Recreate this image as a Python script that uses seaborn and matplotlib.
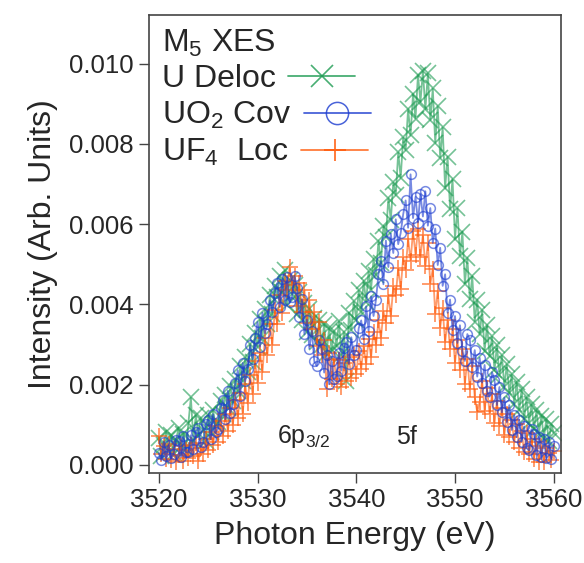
# M5 XES spectra of U, UO2 and UF4

import numpy as np
import pandas as pd
import seaborn as sns
import matplotlib.pyplot as plt
from matplotlib.ticker import FormatStrFormatter, MultipleLocator

sns.set_style("ticks")
plt.rcParams["font.family"] = ["Liberation Sans", "DejaVu Sans"]
plt.rcParams["mathtext.fontset"] = "custom"
plt.rcParams["mathtext.rm"] = "Liberation Sans"
plt.rcParams["mathtext.it"] = "Liberation Sans"

# energy grid (eV), 0.25 eV steps
energy = np.arange(3520, 3560.01, 0.25)

# intensities in units of 1e-4
u_deloc = [
    6.8, 2.1, 4.9, 8.2, 3.5, 7.4, 2.9, 6.1, 9.3, 4.4, 7.8, 3.9,
    10.5, 16.8, 6.2, 12.4, 7.2, 11.8, 8.6, 5.9, 12.4, 8.1, 13.6, 9.9,
    10.8, 15.9, 12.6, 17.4, 14.2, 19.6, 15.8, 21.3, 18.4, 24.6, 20.9, 26.8,
    23.1, 30.2, 25.7, 32.9, 29.4, 36.3, 31.6, 38.8, 35.1, 42.4, 37.6, 44.5,
    41.9, 47.0, 43.2, 48.5, 39.8, 46.1, 42.5, 44.9, 37.6, 43.0, 36.2, 40.4,
    33.1, 38.9, 32.4, 36.7, 30.5, 36.2, 29.8, 35.0, 27.9, 34.1, 28.6, 33.4,
    29.6, 35.8, 27.4, 33.2, 21.0, 37.9, 33.6, 40.8, 36.2, 43.5, 38.1, 45.9,
    40.6, 48.2, 43.7, 51.4, 47.3, 55.9, 50.2, 59.6, 56.8, 66.5, 61.0, 70.4,
    67.2, 77.9, 71.5, 81.6, 78.4, 88.7, 82.1, 92.5, 86.3, 97.2, 90.4, 98.1,
    88.6, 97.6, 85.9, 93.8, 80.2, 89.4, 76.5, 84.1, 68.9, 76.8, 63.7, 71.2,
    56.4, 63.9, 52.1, 58.0, 45.2, 51.6, 41.3, 47.0, 35.7, 41.2, 32.5, 38.6,
    28.4, 34.9, 27.1, 32.0, 23.6, 29.8, 22.4, 27.3, 19.5, 25.1, 17.8, 22.6,
    15.2, 20.7, 13.6, 18.9, 11.4, 16.8, 10.5, 15.1, 8.9, 13.6, 7.8, 12.2,
    6.6, 11.4, 5.9, 10.1, 8.0,
]
uo2_cov = [
    3.0, 1.2, 5.8, 2.1, 4.9, 1.6, 2.8, 6.2, 5.9, 2.0, 7.1, 3.2,
    3.1, 7.4, 4.0, 8.3, 9.2, 4.5, 5.6, 10.1, 11.3, 6.4, 12.6, 8.1,
    9.0, 14.2, 16.1, 11.4, 18.5, 13.0, 15.1, 20.3, 23.6, 17.2, 25.4, 20.8,
    23.9, 29.8, 26.3, 31.5, 35.6, 29.4, 37.9, 32.8, 35.2, 41.0, 38.1, 42.8,
    45.3, 39.4, 46.2, 41.0, 46.8, 40.5, 41.9, 47.1, 44.0, 36.8, 41.3, 32.5,
    36.2, 29.0, 33.4, 25.8, 24.6, 31.2, 28.9, 23.0, 27.5, 20.1, 25.9, 21.4,
    22.1, 28.0, 23.5, 29.2, 30.6, 25.2, 31.8, 27.4, 28.6, 34.1, 36.0, 31.3,
    39.5, 33.4, 42.0, 37.1, 41.2, 47.6, 50.8, 45.0, 55.9, 49.3, 57.6, 52.8,
    61.2, 55.0, 57.8, 62.4, 65.9, 59.1, 72.4, 61.5, 66.8, 60.4, 67.5, 61.9,
    68.2, 59.6, 64.0, 55.3, 58.9, 49.8, 54.1, 44.6, 47.5, 37.9, 41.2, 33.6,
    37.1, 30.4, 34.8, 28.3, 25.9, 32.6, 31.2, 24.4, 28.6, 22.0, 26.7, 20.5,
    24.9, 18.3, 17.0, 23.1, 21.2, 14.9, 19.4, 13.1, 16.8, 10.6, 14.9, 8.7,
    12.4, 6.9, 11.3, 5.8, 9.6, 4.2, 3.6, 8.9, 7.8, 2.5, 7.0, 1.9,
    6.4, 1.8, 5.6, 1.5, 4.8,
]
uf4_loc = [
    7.2, 2.6, 4.8, 1.5, 5.1, 1.2, 3.9, 0.8, 2.4, 4.6, 0.9, 3.7,
    1.8, 4.9, 2.2, 5.5, 0.9, 4.2, 2.8, 6.4, 3.6, 8.1, 4.9, 9.6,
    5.8, 10.9, 7.2, 12.8, 8.4, 14.1, 9.9, 16.2, 11.6, 17.9, 12.8, 20.1,
    15.3, 22.4, 17.6, 25.8, 20.4, 28.0, 23.1, 31.6, 27.4, 35.2, 29.9, 38.5,
    35.1, 42.3, 37.8, 45.9, 43.6, 49.2, 44.8, 47.1, 39.5, 45.3, 38.2, 43.6,
    35.4, 41.0, 33.8, 38.1, 29.7, 35.6, 27.4, 31.2, 19.0, 27.8, 21.3, 26.5,
    20.2, 26.1, 19.5, 25.4, 20.9, 26.8, 21.7, 27.3, 22.6, 28.4, 23.9, 29.6,
    25.1, 31.3, 26.8, 33.2, 29.8, 36.0, 31.5, 38.3, 35.4, 42.1, 37.0, 44.5,
    42.3, 49.0, 43.8, 51.7, 48.6, 56.4, 50.9, 58.2, 52.4, 58.9, 51.8, 57.3,
    49.5, 55.2, 45.1, 48.9, 37.6, 43.4, 34.2, 39.0, 30.5, 36.1, 28.9, 33.8,
    25.4, 31.2, 23.6, 28.9, 20.1, 26.4, 18.8, 24.7, 16.9, 13.2, 15.7, 21.0,
    13.5, 19.1, 12.8, 17.6, 10.4, 15.9, 9.6, 14.3, 7.5, 12.8, 6.9, 11.2,
    5.6, 10.1, 4.3, 8.4, 3.2, 7.9, 2.6, 6.5, 1.4, 5.8, 0.8, 4.6,
    0.6, 4.3, 2.9, 1.2, 3.4,
]

df = pd.DataFrame({
    "E": energy,
    "U": np.array(u_deloc) * 1e-4,
    "UO2": np.array(uo2_cov) * 1e-4,
    "UF4": np.array(uf4_loc) * 1e-4,
})

fig = plt.figure(figsize=(5.84, 5.63), dpi=100)
ax = fig.add_axes([0.255, 0.160, 0.705, 0.814])

green = "#1a9a50"
blue = "#1c3cd0"
orange = "#ff5a0a"

sns.lineplot(data=df, x="E", y="U", ax=ax, color=green, marker="x",
             markeredgecolor=green, markersize=11, markeredgewidth=1.2,
             linewidth=1.3, alpha=0.6, label="U Deloc")
sns.lineplot(data=df, x="E", y="UF4", ax=ax, color=orange, marker="+",
             markeredgecolor=orange, markersize=12, markeredgewidth=1.4,
             linewidth=1.3, alpha=0.6, label="UF$_4$  Loc")
sns.lineplot(data=df, x="E", y="UO2", ax=ax, color=blue, marker="o",
             markerfacecolor="none", markeredgecolor=blue,
             markersize=7, markeredgewidth=1.1, linewidth=1.3, alpha=0.6,
             label="UO$_2$ Cov")

ax.set_xlim(3519, 3560.7)
ax.set_ylim(-0.0002, 0.01122)
ax.xaxis.set_major_locator(MultipleLocator(10))
ax.yaxis.set_major_locator(MultipleLocator(0.002))
ax.yaxis.set_major_formatter(FormatStrFormatter("%.3f"))
ax.tick_params(labelsize=18.5, length=7, width=1, color="#444444", pad=4)
for s in ax.spines.values():
    s.set_color("#444444")
    s.set_linewidth(1.2)

ax.set_xlabel("Photon Energy (eV)", fontsize=23, labelpad=6)
ax.set_ylabel("Intensity (Arb. Units)", fontsize=23, labelpad=8)

ax.text(3534.7, 0.0007, "6p$_{3/2}$", fontsize=18, ha="center", va="center")
ax.text(3545.1, 0.0007, "5f", fontsize=18, ha="center", va="center")

h, l = ax.get_legend_handles_labels()
order = [0, 2, 1]
leg = ax.legend([h[i] for i in order], [l[i] for i in order],
                title="M$_5$ XES", loc="upper left", frameon=False,
                markerfirst=False, fontsize=23, title_fontsize=23,
                alignment="left", handlelength=2.1, handletextpad=0.4,
                labelspacing=0.18, borderaxespad=0.2, borderpad=0.2)
# text left, handle right after it (like the original)
for col in leg._legend_handle_box.get_children():
    col.align = "left"
for lh in leg.legend_handles:
    lh.set_alpha(0.8)
    lh.set_markersize(16)

fig.savefig("out.png", dpi=100)
